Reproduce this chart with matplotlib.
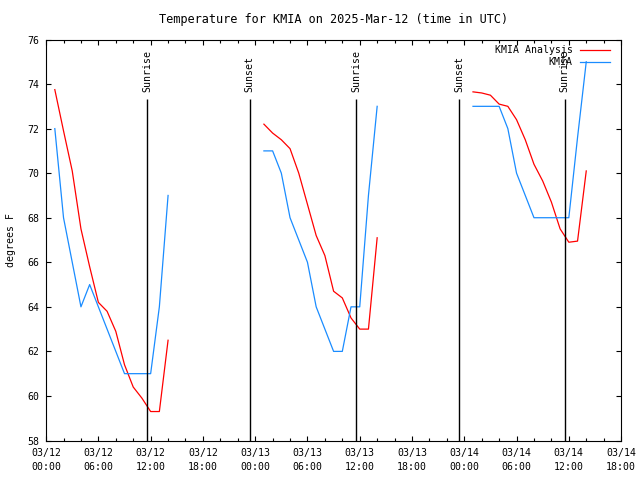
import datetime as dt
import matplotlib
matplotlib.use('Agg')
import matplotlib.pyplot as plt
import matplotlib.dates as mdates

plt.rcParams['font.family'] = 'DejaVu Sans Mono'
plt.rcParams['font.size'] = 7.1

start = dt.datetime(2025, 3, 12, 0, 0)

# hours since 03/12 00:00 UTC, three separate runs
hours_day1 = list(range(1, 15))
hours_day2 = list(range(25, 39))
hours_day3 = list(range(49, 63))

analysis_day1 = [73.75, 71.9, 70.1, 67.5, 65.8, 64.2, 63.8, 62.9, 61.4, 60.4, 59.9, 59.3, 59.3, 62.5]
analysis_day2 = [72.2, 71.8, 71.5, 71.1, 70.0, 68.6, 67.2, 66.3, 64.7, 64.4, 63.5, 63.0, 63.0, 67.1]
analysis_day3 = [73.65, 73.6, 73.5, 73.1, 73.0, 72.4, 71.5, 70.4, 69.65, 68.7, 67.5, 66.9, 66.95, 70.1]

obs_day1 = [72, 68, 66, 64, 65, 64, 63, 62, 61, 61, 61, 61, 64, 69]
obs_day2 = [71, 71, 70, 68, 67, 66, 64, 63, 62, 62, 64, 64, 69, 73]
obs_day3 = [73, 73, 73, 73, 72, 70, 69, 68, 68, 68, 68, 68, 71.6, 75]

sunrise_hours = [11.6, 35.57, 59.54]
sunset_hours = [23.38, 47.39]


def to_times(hours):
    return [start + dt.timedelta(hours=h) for h in hours]


red = '#ff0000'
blue = '#1a8cff'

fig = plt.figure(figsize=(6.4, 4.8), dpi=100)
ax = fig.add_axes([46.1 / 640, 1 - 440.5 / 480, 575 / 640, 401 / 480])

segments = [(hours_day1, analysis_day1, obs_day1),
            (hours_day2, analysis_day2, obs_day2),
            (hours_day3, analysis_day3, obs_day3)]
for i, (hrs, an, ob) in enumerate(segments):
    t = to_times(hrs)
    ax.plot(t, an, color=red, lw=0.9, label='KMIA Analysis' if i == 0 else None)
    ax.plot(t, ob, color=blue, lw=0.9, label='KMIA' if i == 0 else None)

# sunrise / sunset markers
for name, hrs in (('Sunrise', sunrise_hours), ('Sunset', sunset_hours)):
    for t in to_times(hrs):
        ax.vlines(t, 58, 73.35, color='black', lw=1)
        ax.text(t, 73.63, name, rotation=90, ha='center', va='bottom')

ax.set_xlim(start, start + dt.timedelta(hours=66))
ax.set_ylim(58, 76)
ax.set_yticks(range(58, 77, 2))
ax.xaxis.set_major_locator(mdates.HourLocator(byhour=[0, 6, 12, 18]))
ax.xaxis.set_minor_locator(mdates.HourLocator(interval=2))
ax.xaxis.set_major_formatter(mdates.DateFormatter('%m/%d\n%H:%M'))

ax.tick_params(which='both', direction='in', top=True, right=True, width=0.8)
ax.tick_params(which='major', length=3.6, pad=5.5)
ax.tick_params(which='minor', length=2.2)
ax.tick_params(axis='y', pad=5)
for s in ax.spines.values():
    s.set_linewidth(0.8)

ax.set_title('Temperature for KMIA on 2025-Mar-12 (time in UTC)', pad=12)
ax.set_ylabel('degrees F')
ax.yaxis.set_label_coords(-0.052, 0.5)

ax.legend(loc='upper right', bbox_to_anchor=(610 / 640, 1 - 45 / 480),
          bbox_transform=fig.transFigure, frameon=False, markerfirst=False,
          handlelength=3, handletextpad=0.8, labelspacing=0.25,
          borderpad=0, borderaxespad=0)

fig.canvas.draw()
for lbl in ax.get_xticklabels():
    lbl.set_linespacing(1.45)

fig.savefig('out.png', dpi=100)
